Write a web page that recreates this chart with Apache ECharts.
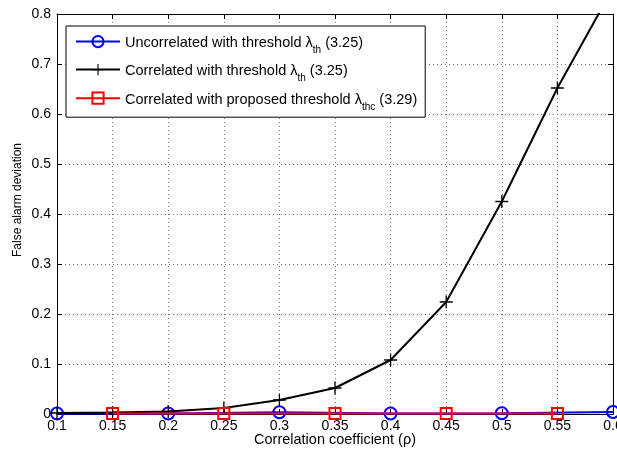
<!DOCTYPE html>
<html>
<head>
<meta charset="utf-8">
<script src="https://cdn.jsdelivr.net/npm/echarts@6/dist/echarts.min.js"></script>
<style>
  html, body { margin: 0; padding: 0; background: #fff; }
  #chart { width: 617px; height: 457px; }
</style>
</head>
<body>
<div id="chart"></div>
<script>
// Correlation coefficient values (x) for each curve
const rhoAll = [0.1, 0.15, 0.2, 0.25, 0.3, 0.35, 0.4, 0.45, 0.5, 0.55, 0.6];
const rhoEven = [0.1, 0.2, 0.3, 0.4, 0.5, 0.6];
const rhoOdd = [0.15, 0.25, 0.35, 0.45, 0.55];

// False alarm deviation per curve
const uncorrTh = [0.001, 0.001, 0.0035, 0.001, 0.0015, 0.004];
const corrTh = [0.002, 0.003, 0.005, 0.012, 0.028, 0.052, 0.108, 0.224, 0.425, 0.652, 0.852];
const corrThc = [0.001, 0.001, 0.001, 0.001, 0.001];

const xTicks = [0.1, 0.15, 0.2, 0.25, 0.3, 0.35, 0.4, 0.45, 0.5, 0.55, 0.6];
const yTicks = [0, 0.1, 0.2, 0.3, 0.4, 0.5, 0.6, 0.7, 0.8];

const seriesNames = [
  'Uncorrelated with threshold λth (3.25)',
  'Correlated with threshold λth (3.25)',
  'Correlated with proposed threshold λthc (3.29)'
];
const legendRich = {
  0: '{a|Uncorrelated with threshold λ}{s|th}{a| (3.25)}',
  1: '{a|Correlated with threshold λ}{s|th}{a| (3.25)}',
  2: '{a|Correlated with proposed threshold λ}{s|thc}{a| (3.29)}'
};

const pair = (xs, ys) => xs.map((x, i) => [x, ys[i]]);
const font = 'Liberation Sans, Arial, Helvetica, sans-serif';

const chart = echarts.init(document.getElementById('chart'), null, { renderer: 'canvas' });

const axisCommon = {
  axisLine: { show: true, onZero: false, lineStyle: { color: '#000', width: 1 } },
  axisTick: { show: true, inside: true, length: 5, lineStyle: { color: '#000' } }
};

chart.setOption({
  animation: false,
  backgroundColor: '#fff',
  textStyle: { fontFamily: font },
  grid: { left: 57, right: 4, top: 14, bottom: 43, containLabel: false, outerBoundsMode: 'none' },
  legend: {
    orient: 'vertical',
    left: 66,
    top: 26,
    padding: [9, 8, 5, 9],
    itemGap: 8,
    itemWidth: 44,
    itemHeight: 14,
    backgroundColor: '#fff',
    borderColor: '#000',
    borderWidth: 1,
    borderRadius: 0,
    data: seriesNames,
    formatter: function (name) {
      return legendRich[seriesNames.indexOf(name)];
    },
    textStyle: {
      rich: {
        a: { fontSize: 14.5, fontFamily: font, color: '#000', lineHeight: 18, verticalAlign: 'bottom' },
        s: { fontSize: 10, fontFamily: font, color: '#000', lineHeight: 18, verticalAlign: 'bottom', padding: [0, 0, -5, 0] }
      }
    }
  },
  xAxis: [
    Object.assign({
      type: 'value', min: 0.1, max: 0.6, interval: 0.05,
      name: 'Correlation coefficient (ρ)',
      nameLocation: 'middle', nameGap: 18, nameMoveOverlap: false,
      nameTextStyle: { fontSize: 14.5, color: '#000', fontFamily: font },
      axisLabel: {
        fontSize: 14, color: '#000', margin: 5, fontFamily: font,
        formatter: v => String(+v.toFixed(2))
      },
      splitLine: { show: true, lineStyle: { color: '#777', type: [1, 3], width: 1 } }
    }, axisCommon),
    Object.assign({
      type: 'value', min: 0.1, max: 0.6, interval: 0.05, position: 'top',
      axisLabel: { show: false }, splitLine: { show: false }
    }, axisCommon)
  ],
  yAxis: [
    Object.assign({
      type: 'value', min: 0, max: 0.8, interval: 0.1,
      name: 'False alarm deviation',
      nameLocation: 'middle', nameGap: 33, nameMoveOverlap: false,
      nameTextStyle: { fontSize: 12, color: '#000', fontFamily: font, padding: [0, 0, 0, 28] },
      axisLabel: {
        fontSize: 14, color: '#000', margin: 6, fontFamily: font,
        formatter: v => (v === 0 ? '0' : v.toFixed(1))
      },
      splitLine: { show: true, lineStyle: { color: '#777', type: [1, 3], width: 1 } }
    }, axisCommon),
    Object.assign({
      type: 'value', min: 0, max: 0.8, interval: 0.1, position: 'right',
      axisLabel: { show: false }, splitLine: { show: false }
    }, axisCommon)
  ],
  series: [
    {
      name: seriesNames[0], type: 'line', data: pair(rhoEven, uncorrTh),
      symbol: 'circle', symbolSize: 12, showAllSymbol: true,
      lineStyle: { color: '#0000ff', width: 2 },
      itemStyle: { color: 'rgba(255,255,255,0)', borderColor: '#0000ff', borderWidth: 2 },
      z: 3
    },
    {
      name: seriesNames[1], type: 'line', data: pair(rhoAll, corrTh),
      symbol: 'path://M-1,-0.1L1,-0.1L1,0.1L-1,0.1Z M-0.1,-1L0.1,-1L0.1,1L-0.1,1Z',
      symbolSize: 13, showAllSymbol: true,
      lineStyle: { color: '#000', width: 2 },
      itemStyle: { color: '#000', borderWidth: 0 },
      z: 4
    },
    {
      name: seriesNames[2], type: 'line', data: pair(rhoOdd, corrThc),
      symbol: 'rect', symbolSize: 11, showAllSymbol: true,
      lineStyle: { color: '#ff0000', width: 2 },
      itemStyle: { color: 'rgba(255,255,255,0)', borderColor: '#ff0000', borderWidth: 2 },
      z: 5
    }
  ]
});
</script>
</body>
</html>
